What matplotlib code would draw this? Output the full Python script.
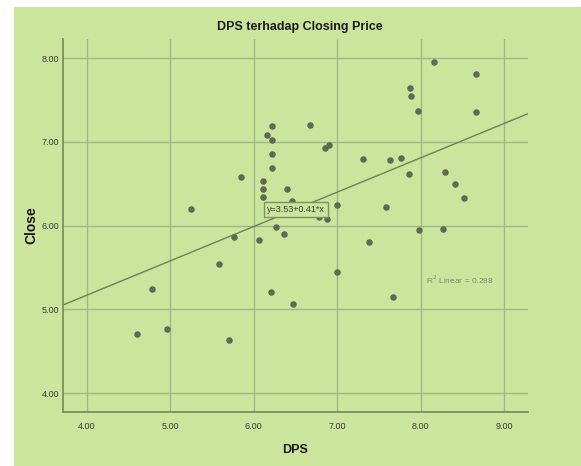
import matplotlib
matplotlib.use("Agg")
import matplotlib.pyplot as plt
from matplotlib.patches import Rectangle
import numpy as np

# --- data ---
dps = [6.215, 6.678, 6.159, 6.215, 6.906, 6.854, 6.215, 6.215, 5.848, 6.108,
       6.108, 6.395, 6.108, 6.460, 6.994, 5.249, 6.778, 6.874, 6.271, 6.363,
       5.764, 6.060, 5.584, 4.778, 6.207, 6.474, 7.001, 4.602, 4.965, 5.704,
       8.159, 8.666, 7.872, 7.880, 7.968, 8.666, 7.313, 7.629, 7.760, 7.860,
       8.291, 8.410, 8.515, 7.588, 7.984, 8.271, 7.377, 7.672]
close = [7.190, 7.197, 7.081, 7.020, 6.962, 6.922, 6.850, 6.690, 6.584, 6.532,
         6.433, 6.433, 6.341, 6.300, 6.246, 6.195, 6.099, 6.075, 5.987, 5.900,
         5.868, 5.832, 5.538, 5.243, 5.211, 5.068, 5.443, 4.703, 4.762, 4.635,
         7.949, 7.809, 7.642, 7.543, 7.371, 7.352, 6.795, 6.779, 6.803, 6.612,
         6.640, 6.496, 6.333, 6.218, 5.944, 5.956, 5.800, 5.144]
intercept = 3.53
slope = 0.41
r2 = 0.288
xticks = [4, 5, 6, 7, 8, 9]
yticks = [4, 5, 6, 7, 8]

BG = '#cce59d'
GRID = '#a2b786'
SPINE = '#7c8e62'
DOT = '#5e6a55'
LINE = '#6f7f5e'
SANS = ['Liberation Sans', 'DejaVu Sans']

fig = plt.figure(figsize=(5.81, 4.66), dpi=100)
fig.set_facecolor('white')
fig.patches.append(Rectangle((14 / 581, 0), 1, (466 - 7) / 466, transform=fig.transFigure,
                             facecolor=BG, edgecolor='none', zorder=-10))
ax = fig.add_axes([63 / 581, 54 / 466, 465 / 581, 373 / 466])
ax.set_facecolor(BG)

ax.set_xlim(3.716, 9.284)
ax.set_ylim(3.777, 8.227)
ax.set_xticks(xticks)
ax.set_yticks(yticks)
ax.set_xticklabels([f"{v:.2f}" for v in xticks], family=SANS, fontsize=6.5, color='#3a3a3a')
ax.set_yticklabels([f"{v:.2f}" for v in yticks], family=SANS, fontsize=6.5, color='#3a3a3a')
ax.tick_params(length=0)
ax.tick_params(axis='x', pad=7)
ax.tick_params(axis='y', pad=3)
ax.grid(True, color=GRID, linewidth=1.0)
ax.set_axisbelow(True)
for s in ['top', 'right']:
    ax.spines[s].set_visible(False)
for s in ['left', 'bottom']:
    ax.spines[s].set_color(SPINE)
    ax.spines[s].set_linewidth(1.3)

ax.scatter(dps, close, s=22, color=DOT, zorder=3, linewidths=0)

xs = np.array(ax.get_xlim())
ax.plot(xs, intercept + slope * xs, color=LINE, linewidth=1.0, zorder=2)

ax.text(6.51, 6.19, f"y={intercept:.2f}+{slope:.2f}*x", ha='center', va='center',
        family=SANS, fontsize=6.5, color='#3a3f35', zorder=4,
        bbox=dict(boxstyle='square,pad=0.35', fc=BG, ec='#7f9068', lw=1.0))
ax.text(8.06, 5.36, f"R$^2$ Linear = {r2:.3f}", ha='left', va='center',
        family=SANS, fontsize=6, color='#7d8a74', zorder=4)

fig.text(300 / 581, 1 - 27 / 466, "DPS terhadap Closing Price", ha='center', va='center',
         family=SANS, fontsize=9, fontweight='bold', color='#1a1a1a')
fig.text(295 / 581, 1 - 450 / 466, "DPS", ha='center', va='center',
         family=SANS, fontsize=9, fontweight='bold', color='#1a1a1a')
fig.text(31 / 581, 1 - 225 / 466, "Close", ha='center', va='center', rotation=90,
         family=SANS, fontsize=10, fontweight='bold', color='#1a1a1a')

fig.savefig('out.png', dpi=100, facecolor=fig.get_facecolor())
